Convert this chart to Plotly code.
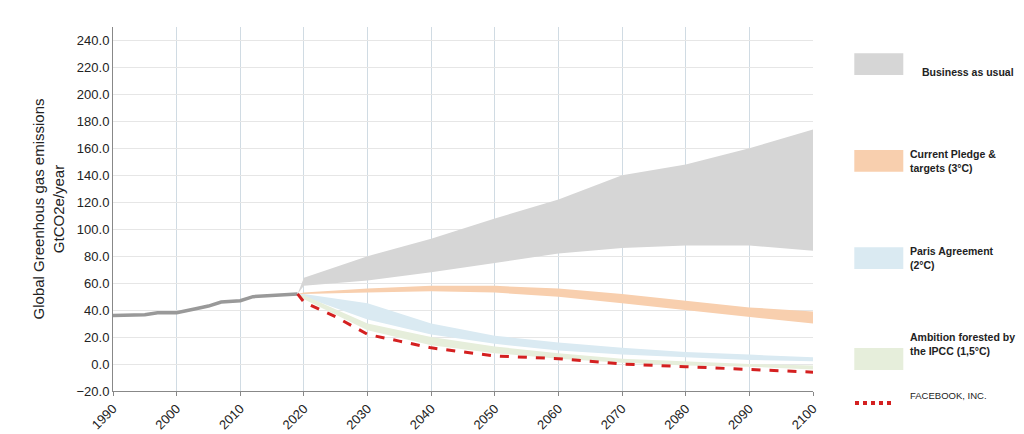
import plotly.graph_objects as go

hist_years = [1990, 1993, 1995, 1997, 2000, 2003, 2005, 2007, 2010, 2012, 2015, 2019]
hist_vals = [36, 36, 36.5, 38, 38, 41, 43, 46, 47, 50, 51, 52]

proj_years = [2019, 2020, 2030, 2040, 2050, 2060, 2070, 2080, 2090, 2100]
bau_low = [52, 58, 62, 68, 75, 82, 86, 88, 88, 84]
bau_high = [52, 64, 80, 93, 108, 122, 140, 148, 160, 174]
pledge_low = [52, 52, 53, 54, 53, 50, 45, 40, 35, 30]
pledge_high = [52, 53, 56, 58, 58, 56, 52, 47, 42, 39]
paris_low = [52, 50, 33, 22, 15, 10, 7, 5, 3, 2]
paris_high = [52, 52, 45, 30, 21, 16, 12, 9, 7, 5]
ipcc_low = [52, 48, 25, 14, 8, 4, 1, -1, -2, -4]
ipcc_high = [52, 51, 30, 20, 13, 8, 4, 2, 0, -1]

fb_years = [2019, 2020, 2025, 2030, 2035, 2040, 2045, 2050, 2060, 2070, 2080, 2090, 2100]
fb_vals = [52, 46, 35, 22, 17, 12, 9, 6, 4, 0, -2, -4, -6]

bands = [
    ("Business as usual", bau_low, bau_high, "#d6d6d6"),
    ("Current Pledge &<br>targets (3°C)", pledge_low, pledge_high, "#f8cfae"),
    ("Paris Agreement<br>(2°C)", paris_low, paris_high, "#daeaf2"),
    ("Ambition forested by<br>the IPCC (1,5°C)", ipcc_low, ipcc_high, "#e6eedb"),
]

fig = go.Figure()
for name, low, high, col in bands:
    fig.add_trace(go.Scatter(x=proj_years, y=low, mode="lines", line=dict(width=0),
                             showlegend=False, hoverinfo="skip"))
    fig.add_trace(go.Scatter(x=proj_years, y=high, mode="lines", line=dict(width=0),
                             fill="tonexty", fillcolor=col, showlegend=False, name=name))

fig.add_trace(go.Scatter(x=hist_years, y=hist_vals, mode="lines",
                         line=dict(color="#999999", width=3.5), showlegend=False))
fig.add_trace(go.Scatter(x=fb_years, y=fb_vals, mode="lines",
                         line=dict(color="#d42020", width=3, dash="dash"), showlegend=False))

# legend drawn on the right
leg_y = [0.898, 0.632, 0.365, 0.088]
for (name, low, high, col), yy in zip(bands, leg_y):
    fig.add_shape(type="rect", xref="paper", yref="paper", x0=1.059, x1=1.129,
                  y0=yy - 0.03, y1=yy + 0.03, fillcolor=col, line_width=0)
    fig.add_annotation(xref="paper", yref="paper", x=1.136 if yy < 0.8 else 1.153, y=yy,
                       text="<b>" + name + "</b>", showarrow=False, xanchor="left",
                       align="left", font=dict(size=10.5, color="#222"))
fig.add_shape(type="line", xref="paper", yref="paper", x0=1.06, x1=1.115, y0=-0.033, y1=-0.033,
              line=dict(color="#d42020", width=4, dash="dot"))
fig.add_annotation(xref="paper", yref="paper", x=1.136, y=-0.033, text="FACEBOOK, INC.",
                   showarrow=False, xanchor="left", font=dict(size=9.5, color="#222"))

fig.update_layout(
    width=1024, height=434,
    margin=dict(l=105, r=219, t=19, b=51),
    paper_bgcolor="white", plot_bgcolor="white",
    font=dict(family="Liberation Sans", size=13, color="#222"),
    xaxis=dict(range=[1990, 2100], tickvals=list(range(1990, 2101, 10)), tickangle=-45,
               showgrid=True, gridcolor="#d0dbe3", showline=True, linecolor="#888",
               ticks="outside", ticklen=4, tickcolor="#888", zeroline=False,
               automargin=False),
    yaxis=dict(range=[-20, 250], tickvals=list(range(-20, 241, 20)), tickformat=".1f",
               showgrid=True, gridcolor="#e6e6e6", showline=True, linecolor="#888",
               zeroline=False, automargin=False,
               title=dict(text="Global Greenhous gas emissions<br>GtCO2e/year",
                          font=dict(size=15), standoff=8)),
)

fig.write_html("out.html")
